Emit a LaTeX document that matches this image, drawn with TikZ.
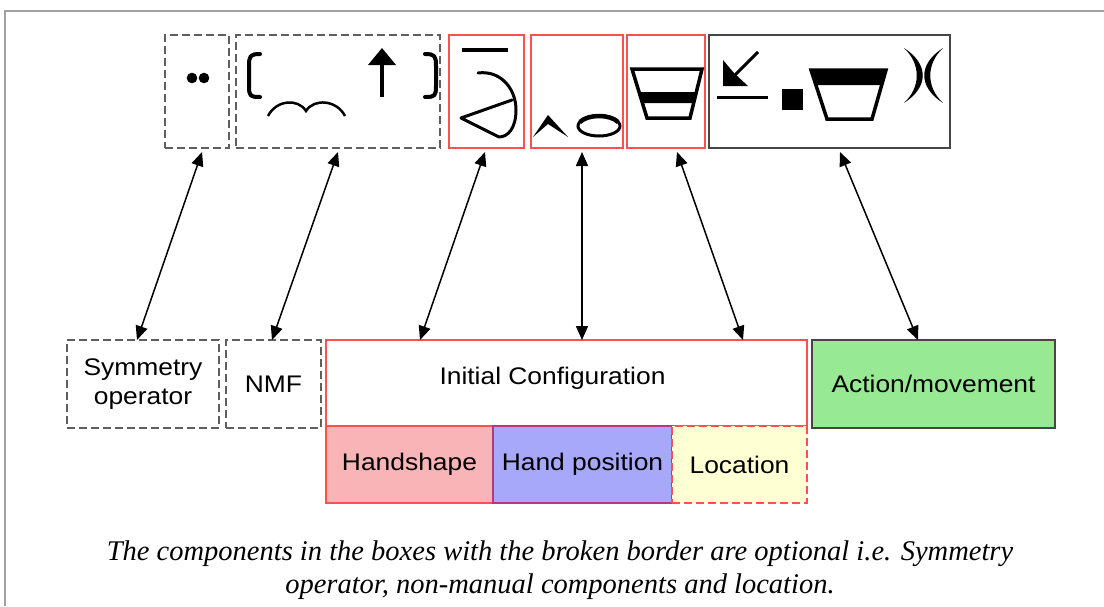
\documentclass[tikz,border=0pt]{standalone}
\usepackage{fontspec}
\setmainfont{Liberation Sans}[FakeStretch=1.1]
\newfontfamily\capfont{Liberation Serif}
\usetikzlibrary{arrows.meta,calc}

\definecolor{boxred}{RGB}{255,80,80}
\definecolor{dashgray}{RGB}{95,95,95}
\definecolor{darkedge}{RGB}{70,70,70}
\definecolor{framegray}{RGB}{160,160,160}
\definecolor{hsfill}{RGB}{249,180,184}
\definecolor{hpfill}{RGB}{168,168,250}
\definecolor{locfill}{RGB}{255,255,212}
\definecolor{actfill}{RGB}{152,233,148}

\begin{document}
\begin{tikzpicture}[x=1pt,y=-1pt,
  every node/.style={inner sep=0pt, outer sep=0pt},
  boxtext/.style={font=\fontsize{24}{29}\selectfont, align=center},
  optbox/.style={draw=dashgray, line width=1.5pt, dash pattern=on 8pt off 4pt},
  redbox/.style={draw=boxred, line width=1.5pt},
  signbox/.style={minimum height=113pt},
  lowbox/.style={minimum height=88pt, boxtext},
  link/.style={{Triangle[length=14pt,width=12pt]}-{Triangle[length=14pt,width=12pt]}, line width=1.5pt, black},
  glyph/.style={line width=3.5pt, line cap=round, line join=round}
]
\useasboundingbox (0,0) rectangle (1104,606);

% outer frame
\draw[framegray, line width=2pt] (1104,11) -- (5,11) -- (5,606);

% sign components (top row)
\node[optbox, signbox, minimum width=64pt]  (sym)  at (197,91.5) {};
\node[optbox, signbox, minimum width=204pt] (nmf)  at (338,91.5) {};
\node[redbox, signbox, minimum width=75pt]  (hs)   at (486.5,91.5) {};
\node[redbox, signbox, minimum width=92pt]  (hp)   at (577,91.5) {};
\node[redbox, signbox, minimum width=78pt]  (loc)  at (666,91.5) {};
\node[draw=darkedge, line width=1.5pt, signbox, minimum width=241pt] (mov) at (829.5,91.5) {};

% symmetry dots
\fill (192,78) circle (5.3pt);
\fill (204,78) circle (5.3pt);

% non-manual features: brackets, mouth, up arrow
\draw[glyph, line width=4pt] (260,54) .. controls (250,54) and (249,56) .. (249,66) -- (249,86) .. controls (249,96) and (250,97) .. (260,97);
\draw[glyph, line width=4pt] (425,54) .. controls (435,54) and (436,56) .. (436,66) -- (436,86) .. controls (436,96) and (435,97) .. (425,97);
\draw[line width=2.5pt] (268,116) .. controls (276,100) and (298,98) .. (306,111) .. controls (314,98) and (337,100) .. (345,116);
\draw[line width=3.5pt] (382,97) -- (382,62);
\fill (368,65) -- (396,65) -- (382,48) -- cycle;

% handshape
\draw[line width=3.5pt] (462,50) -- (508,50);
\draw[line width=3pt, line join=round, line cap=round]
  (478,73) .. controls (500,70) and (516,88) .. (516,110)
  .. controls (516,128) and (508,137) .. (499,137) -- (461,118) -- (512,100);

% hand position
\fill (533,137) -- (548,115) -- (568,137) -- (548,124) -- cycle;
\draw[line width=3pt] (599,126) ellipse [x radius=21pt, y radius=10pt];
\draw[line width=4.5pt] (580,122) .. controls (588,114) and (610,114) .. (618,122);

% location
\draw[line width=3.5pt, line join=miter] (632,69) -- (702,69) -- (690,118) -- (647,118) -- cycle;
\fill (639,92) -- (696.4,92) -- (693.7,103) -- (642.4,103) -- cycle;

% movement
\draw[line width=3pt] (758,52) -- (732,78);
\fill (723,86) -- (723,60) -- (734,73) -- (748,86) -- cycle;
\draw[line width=3pt] (717,97) -- (768,97);
\fill (782,89) rectangle (803,110);
\draw[line width=3.5pt, line join=miter] (811,70) -- (886,70) -- (872,119) -- (827,119) -- cycle;
\fill (811,70) -- (886,70) -- (881.7,85) -- (815.9,85) -- cycle;
\fill (904,48) .. controls (929,64) and (929,87) .. (904,103) .. controls (921,87) and (921,64) .. (904,48) -- cycle;
\fill (943,48) .. controls (918,64) and (918,87) .. (943,103) .. controls (926,87) and (926,64) .. (943,48) -- cycle;

% component boxes (bottom row)
\node[optbox, lowbox, minimum width=152pt] (bsym) at (143,384) {Symmetry\\operator};
\node[optbox, lowbox, minimum width=95pt]  (bnmf) at (273.5,384) {NMF};
\node[redbox, minimum width=481pt, minimum height=86pt,
      label={[boxtext, xshift=-14pt, yshift=5pt]center:Initial Configuration}] (init) at (566.5,383) {};
\node[redbox, fill=hsfill, boxtext, minimum width=167pt, minimum height=77pt] (bhs) at (409.5,464.5) {Handshape};
\node[redbox, draw=boxred!70!blue, fill=hpfill, boxtext, minimum width=179pt, minimum height=77pt] (bhp) at (582.5,464.5) {Hand position};
\node[draw=boxred, line width=1.5pt, dash pattern=on 8pt off 4pt, fill=locfill, boxtext, minimum width=135pt, minimum height=77pt] (bloc) at (739.5,464.5) {Location};
\node[draw=darkedge, line width=1.5pt, fill=actfill, lowbox, minimum width=243pt] (bmov) at (933.5,384) {Action/movement};

% links between signs and components
\draw[link] ([xshift=5pt,yshift=-4pt]sym.south) -- ([xshift=-6pt]bsym.north);
\draw[link] ([yshift=-4pt]nmf.south) -- ([xshift=-1.5pt]bnmf.north);
\draw[link] ([xshift=-1.5pt,yshift=-4pt]hs.south) -- ([xshift=94pt]init.north west);
\draw[link] ([xshift=5pt,yshift=-4pt]hp.south) -- ([xshift=15.5pt]init.north);
\draw[link] ([xshift=11pt,yshift=-4pt]loc.south) -- ([xshift=-64pt]init.north east);
\draw[link] ([xshift=10.5pt,yshift=-4pt]mov.south) -- ([xshift=-15.5pt]bmov.north);

% caption
\node[font=\capfont\itshape\fontsize{28.5}{33}\selectfont, align=center] (cap) at (560,570)
  {The components in the boxes with the broken border are optional i.e. Symmetry\\operator, non-manual components and location.};
\end{tikzpicture}
\end{document}
